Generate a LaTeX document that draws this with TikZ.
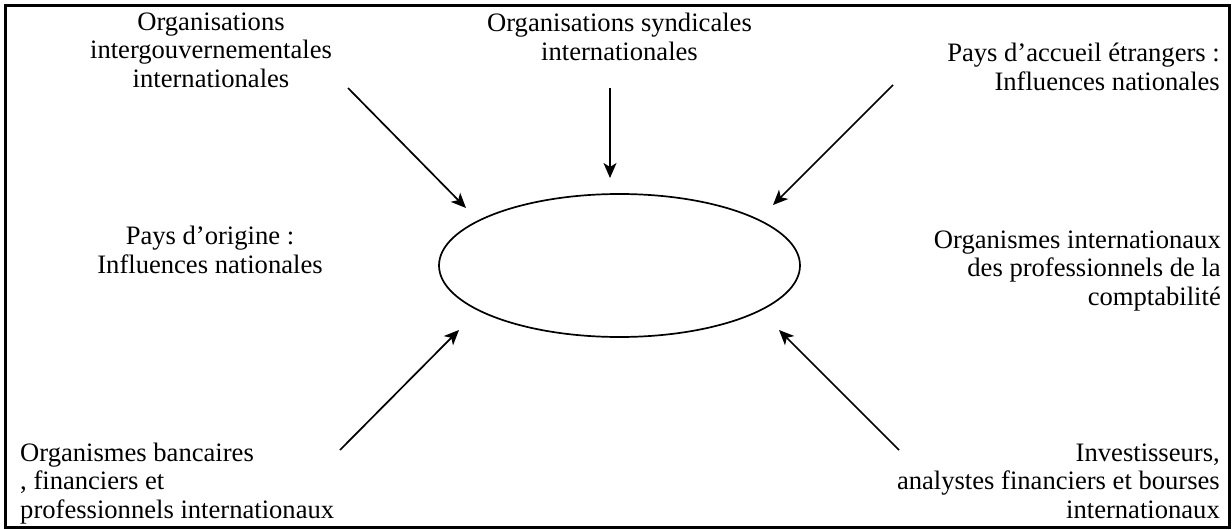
\documentclass[tikz,border=0pt]{standalone}
\usepackage{fontspec}
\setmainfont{Liberation Serif}
\usetikzlibrary{arrows.meta,shapes.geometric}
\begin{document}
\begin{tikzpicture}[x=1pt,y=-1pt,
  lbl/.style={inner sep=0pt, font=\fontsize{26.6}{28.5}\selectfont},
  arr/.style={line width=1.7pt, -{Stealth[length=15pt,width=13pt,inset=4pt]}},
  frame/.style={line width=3pt}]
\useasboundingbox (0,0) rectangle (1232,530);
% outer frame
\draw[frame] (5,5) rectangle (1229,527);
% central ellipse
\node[ellipse, draw, line width=1.7pt, minimum width=361pt, minimum height=143pt, inner sep=0pt] (core) at (619.5,265.5) {};

% surrounding influences (anchored on the baseline of their last line)
\node[lbl, align=center, anchor=base] (igo) at (211,87) {Organisations\\intergouvernementales\\internationales};
\node[lbl, align=center, anchor=base] (syn) at (619.5,60) {Organisations syndicales\\internationales};
\node[lbl, align=right, anchor=base east] (host) at (1220,90) {Pays d’accueil étrangers :\\Influences nationales};
\node[lbl, align=center, anchor=base] (orig) at (210,273) {Pays d’origine :\\Influences nationales};
\node[lbl, align=right, anchor=base east] (prof) at (1221,305) {Organismes internationaux\\des professionnels de la\\comptabilité};
\node[lbl, align=left, anchor=base west] (bank) at (20,518) {Organismes bancaires\\, financiers et\\professionnels internationaux};
\node[lbl, align=right, anchor=base east] (inv) at (1220,518) {Investisseurs,\\analystes financiers et bourses\\internationaux};

% arrow end points
\coordinate (igoS) at (348,88);   \coordinate (igoE) at (466,208);
\coordinate (synS) at (610,88);   \coordinate (synE) at (610,178);
\coordinate (hostS) at (893,85);  \coordinate (hostE) at (773,205);
\coordinate (bankS) at (340,450); \coordinate (bankE) at (459,330);
\coordinate (invS) at (899,450);  \coordinate (invE) at (779,330);

\draw[arr] (igoS) -- (igoE);
\draw[arr] (synS) -- (synE);
\draw[arr] (hostS) -- (hostE);
\draw[arr] (bankS) -- (bankE);
\draw[arr] (invS) -- (invE);
\end{tikzpicture}
\end{document}
